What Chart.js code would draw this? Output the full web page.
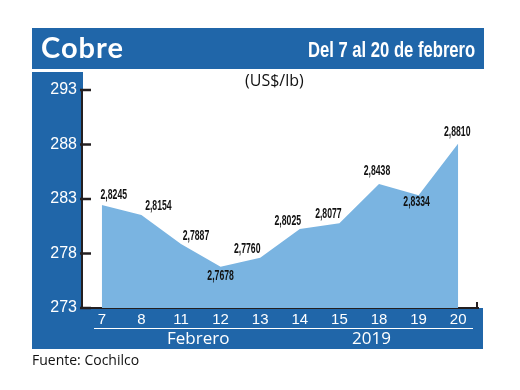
<!DOCTYPE html>
<html><head><meta charset="utf-8">
<script src="https://cdn.jsdelivr.net/npm/chart.js@4/dist/chart.umd.min.js"></script>
<style>
html,body{margin:0;padding:0;background:#fff;width:520px;height:390px;overflow:hidden;}
.abs{position:absolute;}
.blue{background:#2066a9;}
#cv{position:absolute;left:0;top:0;z-index:2;}
.t{position:absolute;z-index:3;white-space:nowrap;}
</style></head>
<body>
<div class="abs blue" style="left:32px;top:28px;width:452px;height:41px;"></div>
<div class="abs blue" style="left:32px;top:72px;width:51px;height:277px;"></div>
<div class="abs blue" style="left:32px;top:308px;width:451px;height:41px;"></div>
<div class="abs" style="left:94px;top:328px;width:379px;height:1px;background:#fff;z-index:3;"></div>
<div class="t" style="left:41px;top:29px;font:bold 29px Lato, sans-serif;color:#fff;letter-spacing:1px;">Cobre</div>
<div class="t" id="sub" style="left:308px;top:37px;font:bold 22px 'Liberation Sans',sans-serif;color:#fff;transform-origin:0 50%;">Del 7 al 20 de febrero</div>
<div class="t" style="left:245px;top:69px;font:16px 'Open Sans',sans-serif;color:#111;">(US$/lb)</div>
<div class="t" style="left:167px;top:326px;font:17px 'Open Sans',sans-serif;color:#fff;">Febrero</div>
<div class="t" style="left:352px;top:326px;font:17px 'Open Sans',sans-serif;color:#fff;">2019</div>
<div class="t" style="left:32px;top:350px;font:14px 'Open Sans',sans-serif;color:#111;">Fuente: Cochilco</div>
<canvas id="cv" width="520" height="390"></canvas>
<script>
const categories = ['7','8','11','12','13','14','15','18','19','20'];
const priceLabels = ['2,8245','2,8154','2,7887','2,7678','2,7760','2,8025','2,8077','2,8438','2,8334','2,8810'];
const prices = [282.45, 281.54, 278.87, 276.78, 277.60, 280.25, 280.77, 284.38, 283.34, 288.10];
const yTicks = [273, 278, 283, 288, 293];

// label placement style: [dx, dy] relative to point
const labelPlacement = [[12,-10],[17,-9],[15,-8],[0,9],[-13,-9],[-12,-8],[-11,-9],[-2,-13],[-2,7],[-1,-11]];

(function(){
  const s = document.getElementById('sub');
  const w = s.offsetWidth;
  s.style.transform = 'scaleX(' + (167 / w) + ')';
})();

const decor = {
  id:'decor',
  afterDraw(chart){
    const ctx = chart.ctx, ys = chart.scales.y, a = chart.chartArea;
    ctx.save();
    ctx.strokeStyle = '#231f20';
    ctx.lineWidth = 2.5;
    yTicks.forEach(v=>{
      const py = ys.getPixelForValue(v);
      ctx.beginPath(); ctx.moveTo(a.left-2, py); ctx.lineTo(a.left+9, py); ctx.stroke();
    });
    ctx.lineWidth = 2;
    ctx.beginPath(); ctx.moveTo(a.right-1, a.bottom); ctx.lineTo(a.right-1, a.bottom-6); ctx.stroke();
    // data labels
    const meta = chart.getDatasetMeta(0);
    ctx.fillStyle = '#111';
    ctx.font = "bold 14px 'Liberation Sans',sans-serif";
    ctx.textAlign = 'center'; ctx.textBaseline = 'middle';
    meta.data.forEach((pt,i)=>{
      const p = labelPlacement[i];
      ctx.save();
      ctx.translate(pt.x + p[0], pt.y + p[1]);
      ctx.scale(0.62, 1);
      ctx.fillText(priceLabels[i], 0, 0);
      ctx.restore();
    });
    ctx.restore();
  }
};

new Chart(document.getElementById('cv'), {
  type:'line',
  data:{labels:categories, datasets:[{data:prices, fill:'start', backgroundColor:'#7ab4e1', borderWidth:0, borderColor:'rgba(0,0,0,0)', pointRadius:0, tension:0}]},
  options:{
    responsive:false, devicePixelRatio:1, animation:false,
    layout:{padding:{left:0, right:42, top:90, bottom:0}},
    plugins:{legend:{display:false}, tooltip:{enabled:false}},
    scales:{
      x:{offset:true, grid:{display:false, drawTicks:false, offset:true}, border:{display:true, color:'#231f20', width:2},
         ticks:{color:'#fff', padding:3, maxRotation:0, autoSkip:false, font:{family:"'Liberation Sans',sans-serif", size:15}},
         afterFit(s){ s.height = 390 - 308; }},
      y:{min:273, max:293, grid:{display:false, drawTicks:false}, border:{display:true, color:'#231f20', width:2},
         afterBuildTicks(s){ s.ticks = yTicks.map(v=>({value:v})); },
         ticks:{color:'#fff', padding:5, font:{family:"'Liberation Sans',sans-serif", size:16}},
         afterFit(s){ s.width = 82; }}
    }
  },
  plugins:[decor]
});
</script>
</body></html>
